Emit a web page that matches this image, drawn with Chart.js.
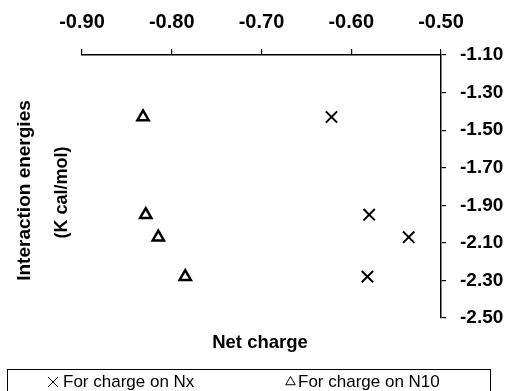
<!DOCTYPE html>
<html>
<head>
<meta charset="utf-8">
<script src="https://cdn.jsdelivr.net/npm/chart.js@4/dist/chart.umd.min.js"></script>
<style>
  html, body { margin: 0; padding: 0; background: #fff; }
  #wrap { width: 510px; height: 391px; }
</style>
</head>
<body>
<div id="wrap"><canvas id="c" width="510" height="391"></canvas></div>
<script>
// Interaction energy of each compound against the net atomic charge
const energies = [-1.43, -1.95, -2.07, -2.28];          // K cal/mol
const chargeNx = [-0.622, -0.580, -0.536, -0.582];      // charge on Nx
const chargeN10 = [-0.832, -0.829, -0.815, -0.785];     // charge on N10

const xTicks = [-0.90, -0.80, -0.70, -0.60, -0.50];
const yTicks = [-1.10, -1.30, -1.50, -1.70, -1.90, -2.10, -2.30, -2.50];

const seriesNames = ['For charge on Nx', 'For charge on N10'];

const FONT = '"Liberation Sans", Arial, sans-serif';

function pairs(xs, ys) {
  return xs.map((x, i) => ({ x: x, y: ys[i] }));
}

// Axis titles and the boxed legend at the foot of the figure
const decorations = {
  id: 'decorations',
  afterDraw(chart) {
    const ctx = chart.ctx;
    const area = chart.chartArea;
    ctx.save();
    ctx.fillStyle = '#000';
    ctx.textBaseline = 'middle';
    ctx.textAlign = 'center';

    // vertical axis title, two lines, reading upwards
    const midY = (area.top + area.bottom) / 2 + 4;
    ctx.font = 'bold 19px ' + FONT;
    ctx.save();
    ctx.translate(25, midY);
    ctx.rotate(-Math.PI / 2);
    ctx.fillText('Interaction energies', 0, 0);
    ctx.restore();
    ctx.font = 'bold 18px ' + FONT;
    ctx.save();
    ctx.translate(62, midY + 2);
    ctx.rotate(-Math.PI / 2);
    ctx.fillText('(K cal/mol)', 0, 0);
    ctx.restore();

    // horizontal axis title below the plot
    ctx.font = 'bold 18.5px ' + FONT;
    ctx.textBaseline = 'alphabetic';
    ctx.fillText('Net charge', 260, 348);

    // legend frame
    ctx.strokeStyle = '#000';
    ctx.lineWidth = 1;
    ctx.strokeRect(7.5, 369.5, 483, 40);

    // legend entries
    const entries = [
      { ds: chart.data.datasets[0], mx: 53, tx: 63 },
      { ds: chart.data.datasets[1], mx: 290.5, tx: 298 }
    ];
    ctx.font = '17px ' + FONT;
    ctx.textAlign = 'left';
    ctx.textBaseline = 'middle';
    entries.forEach(e => {
      const ds = e.ds;
      ctx.strokeStyle = ds.borderColor;
      ctx.fillStyle = ds.backgroundColor;
      Chart.helpers.drawPoint(ctx, {
        pointStyle: ds.pointStyle,
        radius: ds.legendRadius,
        borderWidth: ds.borderWidth,
        rotation: 0
      }, e.mx, 382);
      ctx.fillStyle = '#000';
      ctx.fillText(ds.label, e.tx, 382);
    });
    ctx.restore();
  }
};

new Chart(document.getElementById('c'), {
  type: 'scatter',
  data: {
    datasets: [
      {
        label: seriesNames[0],
        data: pairs(chargeNx, energies),
        pointStyle: 'crossRot',
        pointRadius: 8,
        pointHoverRadius: 8,
        legendRadius: 7,
        borderColor: '#000',
        backgroundColor: '#fff',
        borderWidth: 2
      },
      {
        label: seriesNames[1],
        data: pairs(chargeN10, energies),
        pointStyle: 'triangle',
        pointRadius: 6.5,
        pointHoverRadius: 6.5,
        legendRadius: 5.5,
        borderColor: '#000',
        backgroundColor: '#fff',
        borderWidth: 2.5
      }
    ]
  },
  options: {
    responsive: false,
    animation: false,
    devicePixelRatio: 1,
    layout: { padding: { left: 82, right: 0, top: 0, bottom: 73 } },
    plugins: {
      legend: { display: false },
      tooltip: { enabled: false },
      title: { display: false }
    },
    scales: {
      x: {
        type: 'linear',
        position: 'top',
        min: -0.9,
        max: -0.5,
        afterBuildTicks: s => { s.ticks = xTicks.map(v => ({ value: v })); },
        afterFit: s => { s.height = 55; },
        ticks: {
          color: '#000',
          padding: 15,
          maxRotation: 0,
          font: { family: FONT, size: 20, weight: 'bold' },
          callback: v => Number(v).toFixed(2)
        },
        grid: {
          display: true,
          drawOnChartArea: false,
          drawTicks: true,
          tickLength: 6,
          color: '#000',
          lineWidth: 1.2
        },
        border: { display: true, color: '#000', width: 1.5 }
      },
      y: {
        type: 'linear',
        position: 'right',
        min: -2.5,
        max: -1.1,
        afterBuildTicks: s => { s.ticks = yTicks.map(v => ({ value: v })); },
        afterFit: s => { s.width = 69; },
        ticks: {
          color: '#000',
          padding: 14,
          font: { family: FONT, size: 19, weight: 'bold' },
          callback: v => Number(v).toFixed(2)
        },
        grid: {
          display: true,
          drawOnChartArea: false,
          drawTicks: true,
          tickLength: 5,
          color: '#000',
          lineWidth: 1.2
        },
        border: { display: true, color: '#000', width: 1.5 }
      }
    }
  },
  plugins: [decorations]
});
</script>
</body>
</html>
